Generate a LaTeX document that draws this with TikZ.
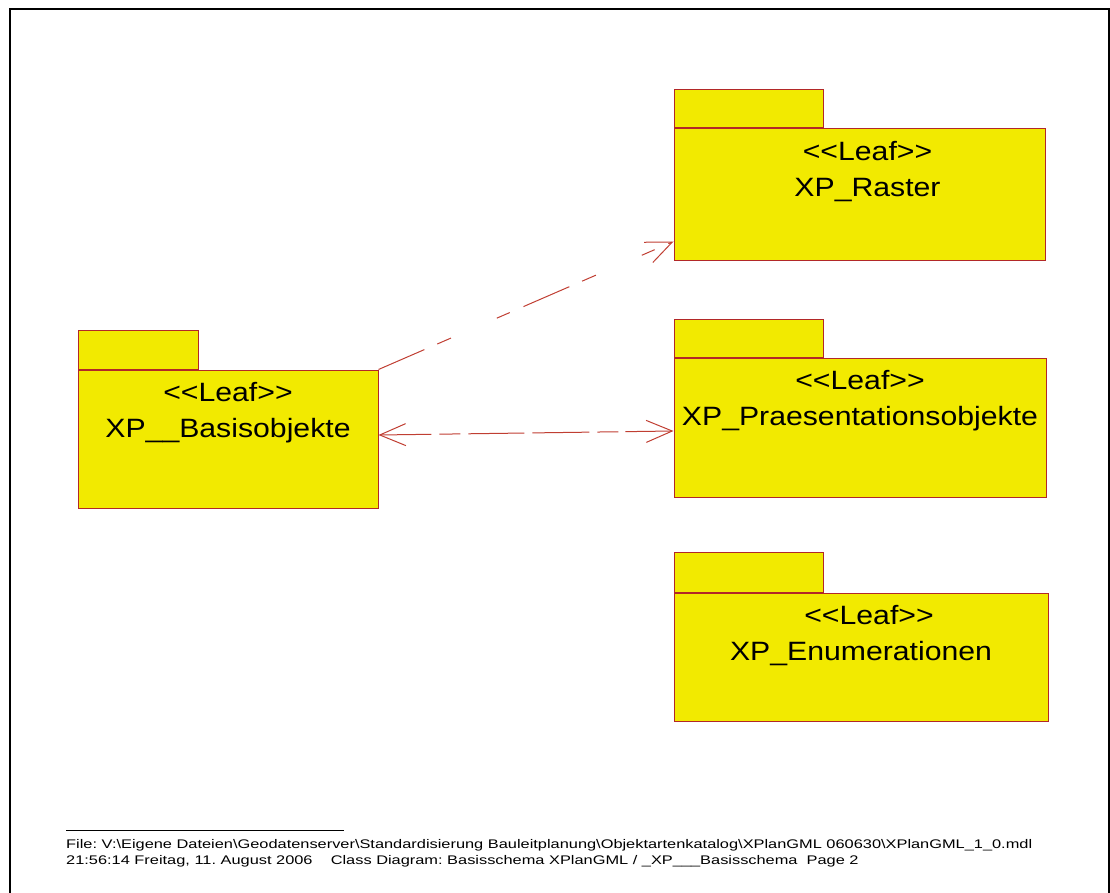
\documentclass[tikz,border=0pt]{standalone}
\usepackage{fontspec}
\setmainfont{Liberation Sans}
\newfontfamily\pkgfont{Liberation Sans}[Ligatures=TeXOff, FakeStretch=1.14]
\newfontfamily\footfont{Liberation Sans}[Ligatures=TeXOff, FakeStretch=1.31]
\usetikzlibrary{arrows.meta,calc}

\definecolor{pkgfill}{RGB}{242,234,0}
\definecolor{pkgline}{RGB}{178,40,40}
\definecolor{depline}{RGB}{192,62,50}

\tikzset{
  pkgbody/.style={draw=pkgline, fill=pkgfill, line width=1pt, inner sep=0pt},
  pkgtab/.style={pkgbody, anchor=south west},
  pkgtext/.style={font=\pkgfont\fontsize{26.5pt}{32pt}\selectfont, inner sep=0pt, anchor=base},
  foottext/.style={font=\footfont\fontsize{12.5pt}{15pt}\selectfont\frenchspacing, inner sep=0pt, anchor=base west},
  dep/.style={draw=depline, line width=1pt},
  barb/.tip={Straight Barb[length=26pt, width=22pt, line width=1pt]},
}

\begin{document}
\begin{tikzpicture}[x=1pt, y=-1pt]
\useasboundingbox (0,0) rectangle (1110,893);

% page frame
\draw[line width=2pt] (10,893) -- (10,9.3) -- (1108.5,9.3) -- (1108.5,893);

% package XP__Basisobjekte
\node[pkgbody, minimum width=300pt, minimum height=138pt] (basis) at (228,439) {};
\node[pkgtab, minimum width=120pt, minimum height=39pt] (basis-tab) at (basis.north west) {};
\node[pkgtext] (basis-st) at ($(basis.north)+(0,32)$) {<<Leaf>>};
\node[pkgtext] (basis-name) at ($(basis.north)+(0,68)$) {XP\_\_Basisobjekte};

% package XP_Raster
\node[pkgbody, minimum width=371pt, minimum height=131pt] (raster) at (859.5,194.5) {};
\node[pkgtab, minimum width=149pt, minimum height=38pt] (raster-tab) at (raster.north west) {};
\node[pkgtext] (raster-st) at ($(raster.north)+(8,32)$) {<<Leaf>>};
\node[pkgtext] (raster-name) at ($(raster.north)+(8,68)$) {XP\_Raster};

% package XP_Praesentationsobjekte
\node[pkgbody, minimum width=372pt, minimum height=139pt] (praes) at (860,427.5) {};
\node[pkgtab, minimum width=149pt, minimum height=38pt] (praes-tab) at (praes.north west) {};
\node[pkgtext] (praes-st) at ($(praes.north)+(0,32)$) {<<Leaf>>};
\node[pkgtext] (praes-name) at ($(praes.north)+(0,68)$) {XP\_Praesentationsobjekte};

% package XP_Enumerationen
\node[pkgbody, minimum width=374pt, minimum height=128pt] (enum) at (861,657) {};
\node[pkgtab, minimum width=149pt, minimum height=40pt] (enum-tab) at (enum.north west) {};
\node[pkgtext] (enum-st) at ($(enum.north)+(8,32)$) {<<Leaf>>};
\node[pkgtext] (enum-name) at ($(enum.north)+(0,68)$) {XP\_Enumerationen};

% dependencies
\draw[dep, dash pattern=on 50pt off 14pt on 15pt off 50pt on 14pt off 15pt, -barb]
  (basis.north east) -- ($(raster.south west)+(0,-19)$);
\draw[dep, dash pattern=on 51pt off 8pt on 21pt off 8pt on 56pt off 8pt on 57pt off 8pt on 21pt off 7pt on 51pt off 0pt, barb-barb]
  ($(basis.east)+(0,-4)$) -- ($(praes.west)+(0,3.5)$);

% footer
\draw[line width=0.8pt] (66,830) -- (344,830);
\node[foottext] (file) at (66,848) {File: V:\textbackslash Eigene Dateien\textbackslash Geodatenserver\textbackslash Standardisierung Bauleitplanung\textbackslash Objektartenkatalog\textbackslash XPlanGML 060630\textbackslash XPlanGML\_1\_0.mdl};
\node[foottext] (stamp) at (66,864) {21:56:14 Freitag, 11. August 2006\ \ \ \ Class Diagram: Basisschema XPlanGML / \_XP\_\_\_Basisschema\ \ Page 2};
\end{tikzpicture}
\end{document}
